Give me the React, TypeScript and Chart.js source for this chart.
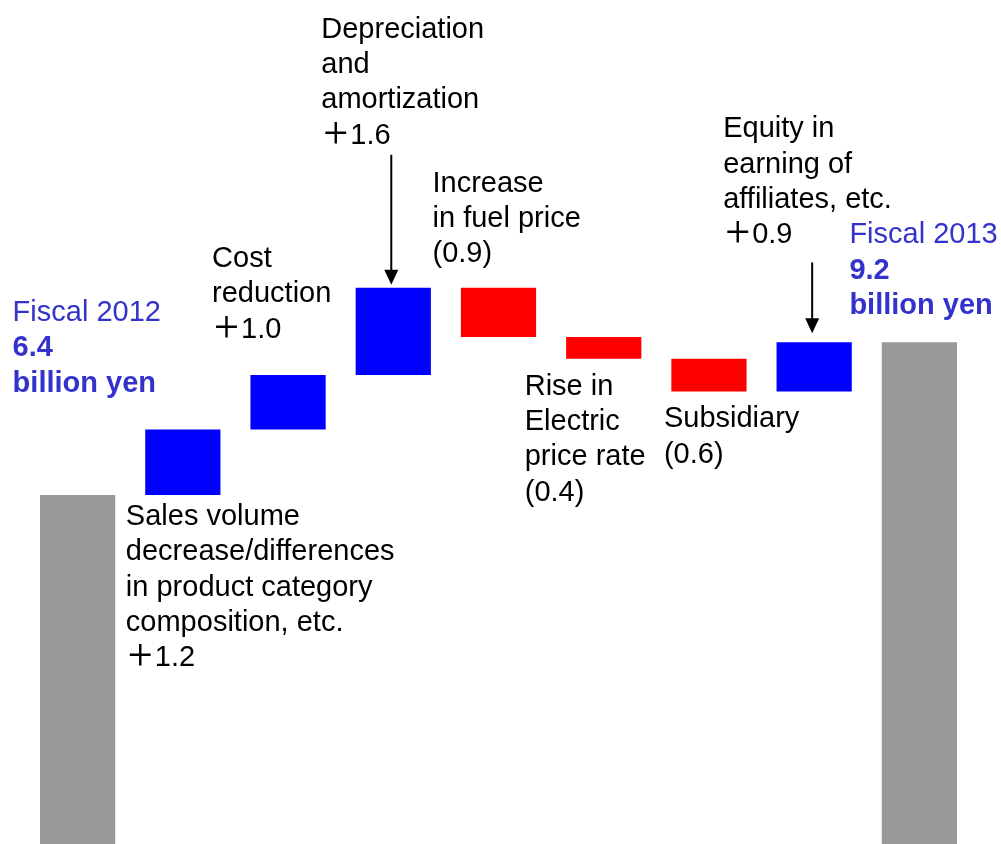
import React, { useEffect, useRef } from "react";
import { Chart, registerables } from "chart.js";

Chart.register(...registerables);

// ---- Data ----
const categories = [
  "Fiscal 2012",
  "Sales volume decrease/differences in product category composition, etc.",
  "Cost reduction",
  "Depreciation and amortization",
  "Increase in fuel price",
  "Rise in Electric price rate",
  "Subsidiary",
  "Equity in earning of affiliates, etc.",
  "Fiscal 2013",
];
const startValue = 6.4;
const deltas = [1.2, 1.0, 1.6, -0.9, -0.4, -0.6, 0.9];
const endValue = 9.2;

const labelTexts: string[][] = [
  ["Fiscal 2012"],
  ["Sales volume", "decrease/differences", "in product category", "composition, etc."],
  ["Cost", "reduction"],
  ["Depreciation", "and", "amortization"],
  ["Increase", "in fuel price"],
  ["Rise in", "Electric", "price rate"],
  ["Subsidiary"],
  ["Equity in", "earning of", "affiliates, etc."],
  ["Fiscal 2013"],
];

// ---- Derived ----
const ranges: [number, number][] = [];
ranges.push([0, startValue]);
let running = startValue;
for (const d of deltas) {
  const next = Math.round((running + d) * 10) / 10;
  ranges.push([running, next]);
  running = next;
}
ranges.push([0, endValue]);

const fmtDelta = (d: number) => (d >= 0 ? "＋" + d.toFixed(1) : "(" + Math.abs(d).toFixed(1) + ")");

const allLines: string[][] = labelTexts.map((lines, i) => {
  if (i === 0) return [...lines, startValue.toFixed(1), "billion yen"];
  if (i === labelTexts.length - 1) return [...lines, endValue.toFixed(1), "billion yen"];
  return [...lines, fmtDelta(deltas[i - 1])];
});

const GRAY = "#999999";
const BLUE = "#0000FF";
const RED = "#FF0000";
const TEXT_BLUE = "#3333CC";

const colors = ranges.map((r, i) =>
  i === 0 || i === ranges.length - 1 ? GRAY : r[1] >= r[0] ? BLUE : RED
);

// placement styles: anchor edge of bar, x offset from bar centre, first baseline offset
type Place = { anchor: "top" | "bottom"; dx: number; dy: number; total?: boolean; arrow?: [string, number, string, number] };
const placements: Place[] = [
  { anchor: "top", dx: -65, dy: -174, total: true },
  { anchor: "bottom", dx: -57, dy: 30 },
  { anchor: "top", dx: -76, dy: -108 },
  { anchor: "top", dx: -72, dy: -250, arrow: ["top", -133, "top", -3] },
  { anchor: "top", dx: -66, dy: -96 },
  { anchor: "bottom", dx: -79, dy: 36 },
  { anchor: "bottom", dx: -45, dy: 36 },
  { anchor: "bottom", dx: -91, dy: -254, arrow: ["bottom", -129, "top", -9] },
  { anchor: "top", dx: -70, dy: -99, total: true },
];

const FONT_FAMILY = '"Liberation Sans", Arial, "Noto Sans CJK JP", sans-serif';
const FONT_SIZE = 29;

const annotationPlugin = {
  id: "waterfallLabels",
  afterDatasetsDraw(chart: any) {
    const ctx = chart.ctx as CanvasRenderingContext2D;
    const meta = chart.getDatasetMeta(0);
    ctx.save();
    meta.data.forEach((el: any, i: number) => {
      const p = placements[i];
      const top = Math.min(el.y, el.base);
      const bottom = Math.max(el.y, el.base);
      const edge = (a: string) => (a === "top" ? top : bottom);
      const x0 = el.x + p.dx;
      const y0 = edge(p.anchor) + p.dy;
      const lineH = 35.3;
      ctx.textAlign = "left";
      ctx.textBaseline = "alphabetic";
      allLines[i].forEach((line, j) => {
        const y = y0 + j * lineH;
        if (p.total) {
          ctx.fillStyle = TEXT_BLUE;
          ctx.font = (j === 0 ? "" : "bold ") + FONT_SIZE + "px " + FONT_FAMILY;
          ctx.fillText(line, x0, y);
          return;
        }
        ctx.fillStyle = "#000000";
        if (line.startsWith("＋")) {
          ctx.font = "500 " + FONT_SIZE + 'px "Noto Sans CJK JP", sans-serif';
          ctx.fillText("＋", x0, y);
          const w = ctx.measureText("＋").width;
          ctx.font = FONT_SIZE + "px " + FONT_FAMILY;
          ctx.fillText(line.slice(1), x0 + w, y);
        } else {
          ctx.font = FONT_SIZE + "px " + FONT_FAMILY;
          ctx.fillText(line, x0, y);
        }
      });
      if (p.arrow) {
        const ax = el.x - 2;
        const ys = edge(p.arrow[0]) + p.arrow[1];
        const ye = edge(p.arrow[2]) + p.arrow[3];
        ctx.strokeStyle = "#000000";
        ctx.fillStyle = "#000000";
        ctx.lineWidth = 2;
        ctx.beginPath();
        ctx.moveTo(ax, ys);
        ctx.lineTo(ax, ye - 14);
        ctx.stroke();
        ctx.beginPath();
        ctx.moveTo(ax - 7, ye - 15);
        ctx.lineTo(ax + 7, ye - 15);
        ctx.lineTo(ax, ye);
        ctx.closePath();
        ctx.fill();
      }
    });
    ctx.restore();
  },
};

export default function App() {
  const canvasRef = useRef<HTMLCanvasElement | null>(null);

  useEffect(() => {
    document.body.style.margin = "0";
    const canvas = canvasRef.current;
    if (!canvas) return;
    const chart = new Chart(canvas, {
      type: "bar",
      data: {
        labels: categories,
        datasets: [
          {
            data: ranges as any,
            backgroundColor: colors,
            borderWidth: 0,
            barPercentage: 0.715,
            categoryPercentage: 1,
          },
        ],
      },
      options: {
        animation: false,
        responsive: true,
        maintainAspectRatio: false,
        layout: { padding: { left: 25, right: 29, top: 0, bottom: 0 } },
        plugins: { legend: { display: false }, tooltip: { enabled: false }, title: { display: false } },
        scales: {
          x: { display: false },
          y: { display: false, min: 0, max: 15.478 },
        },
      },
      plugins: [annotationPlugin],
    });
    return () => chart.destroy();
  }, []);

  return (
    <div style={{ position: "fixed", left: 0, top: 0, width: "1001px", height: "844px", background: "#ffffff" }}>
      <canvas ref={canvasRef} />
    </div>
  );
}
